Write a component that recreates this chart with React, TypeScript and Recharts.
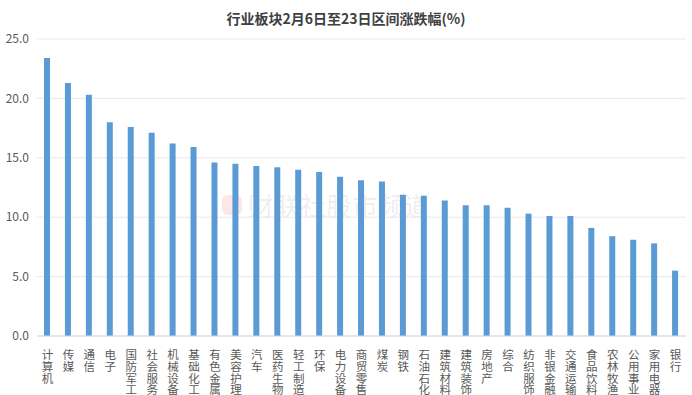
import React from 'react';
import { Bar, BarChart, CartesianGrid, XAxis, YAxis } from 'recharts';

// Sectors and their change (%) between Feb 6 and Feb 23
const sectors = [
  '计算机', '传媒', '通信', '电子', '国防军工', '社会服务', '机械设备', '基础化工',
  '有色金属', '美容护理', '汽车', '医药生物', '轻工制造', '环保', '电力设备', '商贸零售',
  '煤炭', '钢铁', '石油石化', '建筑材料', '建筑装饰', '房地产', '综合', '纺织服饰',
  '非银金融', '交通运输', '食品饮料', '农林牧渔', '公用事业', '家用电器', '银行',
];
const changes = [
  23.4, 21.3, 20.3, 18.0, 17.6, 17.1, 16.2, 15.9,
  14.6, 14.5, 14.3, 14.2, 14.0, 13.8, 13.4, 13.1,
  13.0, 11.9, 11.8, 11.4, 11.0, 11.0, 10.8, 10.3,
  10.1, 10.1, 9.1, 8.4, 8.1, 7.8, 5.5,
];
const yTicks = [0, 5, 10, 15, 20, 25];

const data = sectors.map((name, i) => ({ name, value: changes[i] }));

const FONT = '"Noto Sans CJK SC", "Noto Sans", sans-serif';

// vertical label: one character per line
const VerticalTick = ({ x, y, payload }: any) => {
  const chars = String(payload.value).split('');
  return (
    <text x={x} y={y} fill="#595959" fontSize={11.5} fontFamily={FONT} textAnchor="middle">
      {chars.map((c, i) => (
        <tspan key={i} x={x} dy={i === 0 ? 15 : 11.8}>
          {c}
        </tspan>
      ))}
    </text>
  );
};

export default function App() {
  return (
    <div style={{ position: 'absolute', left: 0, top: 0, width: 692, height: 395, background: '#fff' }}>
      <div
        style={{
          position: 'absolute',
          left: 0,
          top: 8,
          width: 692,
          textAlign: 'center',
          fontFamily: FONT,
          fontWeight: 'bold',
          fontSize: 14,
          color: '#404040',
        }}
      >
        行业板块2月6日至23日区间涨跌幅(%)
      </div>
      {/* faint watermark behind the bars */}
      <div
        style={{
          position: 'absolute',
          left: 222,
          top: 186,
          display: 'flex',
          alignItems: 'center',
          gap: 6,
          fontFamily: FONT,
          fontSize: 26,
          color: 'rgba(0,0,0,0.08)',
        }}
      >
        <span
          style={{
            width: 20,
            height: 20,
            borderRadius: 6,
            background: 'rgba(230,60,60,0.13)',
            display: 'inline-block',
          }}
        />
        财联社股市频道
      </div>
      <BarChart
        width={692}
        height={395}
        data={data}
        margin={{ top: 39, right: 6, left: 0, bottom: 0 }}
        style={{ position: 'absolute', left: 0, top: 0 }}
      >
        <CartesianGrid vertical={false} stroke="#e8e8e8" />
        <XAxis
          dataKey="name"
          interval={0}
          tick={<VerticalTick />}
          tickLine={false}
          axisLine={{ stroke: '#d9d9d9' }}
          height={59}
        />
        <YAxis
          domain={[0, 25]}
          ticks={yTicks}
          tickFormatter={(v) => v.toFixed(1)}
          tick={{ fill: '#595959', fontSize: 12, fontFamily: FONT }}
          tickLine={false}
          axisLine={false}
          width={37}
        />
        <Bar dataKey="value" fill="#5b9bd5" barSize={6} isAnimationActive={false} />
      </BarChart>
    </div>
  );
}
